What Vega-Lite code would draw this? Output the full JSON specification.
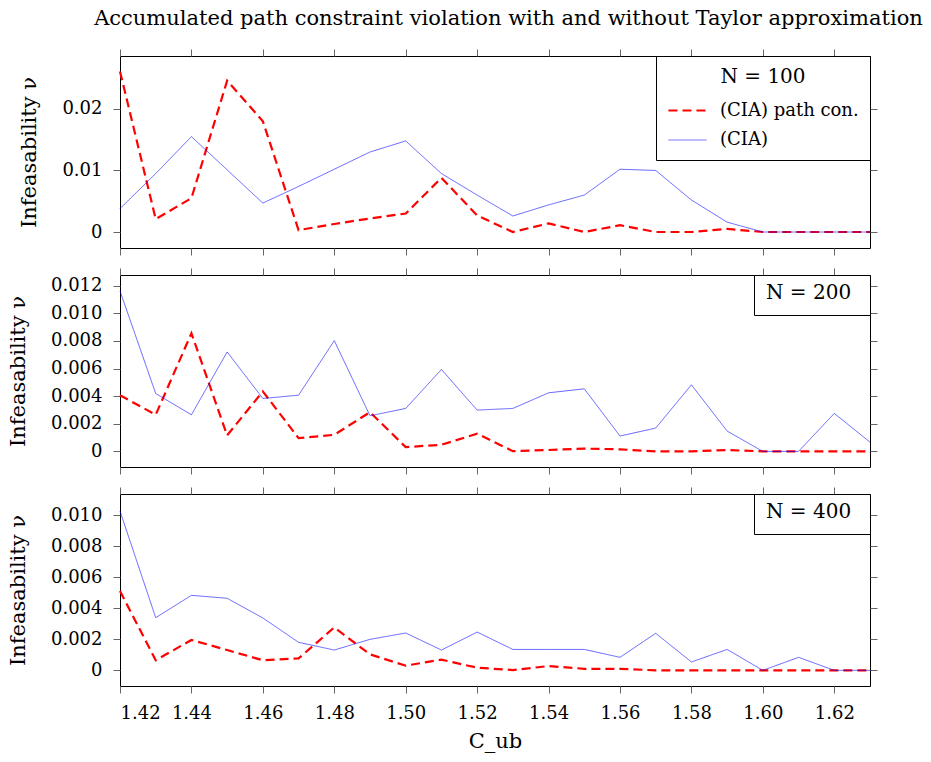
{
  "$schema": "https://vega.github.io/schema/vega-lite/v6.json",
  "padding": {"left": 6, "top": 8, "right": 5, "bottom": 2},
  "title": {"text": "Accumulated path constraint violation with and without Taylor approximation", "font": "DejaVu Serif", "fontSize": 21, "fontWeight": "normal", "color": "#000", "anchor": "middle", "offset": 19, "dx": 66},
  "config": {
    "font": "DejaVu Serif",
    "view": {"stroke": "#000", "strokeWidth": 1},
    "axis": {"labelFont": "DejaVu Serif", "labelFontSize": 18, "labelColor": "#000", "titleFont": "DejaVu Serif", "titleFontSize": 21, "titleFontWeight": "normal", "titleColor": "#000", "grid": false, "domain": false, "tickColor": "#666", "tickSize": 7, "labelPadding": 11, "titlePadding": 22},
    "legend": {"labelFont": "DejaVu Serif", "labelFontSize": 18, "labelColor": "#000", "titleFont": "DejaVu Serif", "titleFontSize": 20, "titleFontWeight": "normal", "titleColor": "#000"},
    "line": {"strokeCap": "butt"}
  },
  "spacing": 11,
  "resolve": {"scale": {"color": "independent", "strokeDash": "independent", "strokeWidth": "independent", "opacity": "independent"}, "legend": {"color": "independent", "strokeDash": "independent", "strokeWidth": "independent", "opacity": "independent"}},
  "datasets": {
    "n100": [
      {"x":1.42,"s":"(CIA) path con.","v":0.0261},{"x":1.43,"s":"(CIA) path con.","v":0.0021},{"x":1.44,"s":"(CIA) path con.","v":0.0055},{"x":1.45,"s":"(CIA) path con.","v":0.0246},{"x":1.46,"s":"(CIA) path con.","v":0.0180},{"x":1.47,"s":"(CIA) path con.","v":0.0003},{"x":1.48,"s":"(CIA) path con.","v":0.0013},{"x":1.49,"s":"(CIA) path con.","v":0.0022},{"x":1.50,"s":"(CIA) path con.","v":0.0030},{"x":1.51,"s":"(CIA) path con.","v":0.0088},{"x":1.52,"s":"(CIA) path con.","v":0.0027},{"x":1.53,"s":"(CIA) path con.","v":0.0},{"x":1.54,"s":"(CIA) path con.","v":0.0014},{"x":1.55,"s":"(CIA) path con.","v":0.0},{"x":1.56,"s":"(CIA) path con.","v":0.0011},{"x":1.57,"s":"(CIA) path con.","v":0.0},{"x":1.58,"s":"(CIA) path con.","v":0.0},{"x":1.59,"s":"(CIA) path con.","v":0.0005},{"x":1.60,"s":"(CIA) path con.","v":0.0},{"x":1.61,"s":"(CIA) path con.","v":0.0},{"x":1.62,"s":"(CIA) path con.","v":0.0},{"x":1.63,"s":"(CIA) path con.","v":0.0},
      {"x":1.42,"s":"(CIA)","v":0.0038},{"x":1.43,"s":"(CIA)","v":0.0095},{"x":1.44,"s":"(CIA)","v":0.0155},{"x":1.45,"s":"(CIA)","v":0.0101},{"x":1.46,"s":"(CIA)","v":0.0047},{"x":1.47,"s":"(CIA)","v":0.0074},{"x":1.48,"s":"(CIA)","v":0.0102},{"x":1.49,"s":"(CIA)","v":0.0130},{"x":1.50,"s":"(CIA)","v":0.0148},{"x":1.51,"s":"(CIA)","v":0.0095},{"x":1.52,"s":"(CIA)","v":0.0060},{"x":1.53,"s":"(CIA)","v":0.0026},{"x":1.54,"s":"(CIA)","v":0.0044},{"x":1.55,"s":"(CIA)","v":0.0060},{"x":1.56,"s":"(CIA)","v":0.0102},{"x":1.57,"s":"(CIA)","v":0.0100},{"x":1.58,"s":"(CIA)","v":0.0052},{"x":1.59,"s":"(CIA)","v":0.0016},{"x":1.60,"s":"(CIA)","v":0.0},{"x":1.61,"s":"(CIA)","v":0.0},{"x":1.62,"s":"(CIA)","v":0.0},{"x":1.63,"s":"(CIA)","v":0.0}
    ],
    "n200": [
      {"x":1.42,"s":"(CIA) path con.","v":0.00407},{"x":1.43,"s":"(CIA) path con.","v":0.00265},{"x":1.44,"s":"(CIA) path con.","v":0.00855},{"x":1.45,"s":"(CIA) path con.","v":0.00116},{"x":1.46,"s":"(CIA) path con.","v":0.00434},{"x":1.47,"s":"(CIA) path con.","v":0.00096},{"x":1.48,"s":"(CIA) path con.","v":0.0012},{"x":1.49,"s":"(CIA) path con.","v":0.00284},{"x":1.50,"s":"(CIA) path con.","v":0.00031},{"x":1.51,"s":"(CIA) path con.","v":0.00048},{"x":1.52,"s":"(CIA) path con.","v":0.00128},{"x":1.53,"s":"(CIA) path con.","v":0.00002},{"x":1.54,"s":"(CIA) path con.","v":0.0001},{"x":1.55,"s":"(CIA) path con.","v":0.0002},{"x":1.56,"s":"(CIA) path con.","v":0.00015},{"x":1.57,"s":"(CIA) path con.","v":0.0},{"x":1.58,"s":"(CIA) path con.","v":0.0},{"x":1.59,"s":"(CIA) path con.","v":0.0001},{"x":1.60,"s":"(CIA) path con.","v":0.0},{"x":1.61,"s":"(CIA) path con.","v":0.0},{"x":1.62,"s":"(CIA) path con.","v":0.0},{"x":1.63,"s":"(CIA) path con.","v":0.0},
      {"x":1.42,"s":"(CIA)","v":0.01161},{"x":1.43,"s":"(CIA)","v":0.00419},{"x":1.44,"s":"(CIA)","v":0.00265},{"x":1.45,"s":"(CIA)","v":0.0072},{"x":1.46,"s":"(CIA)","v":0.00383},{"x":1.47,"s":"(CIA)","v":0.00407},{"x":1.48,"s":"(CIA)","v":0.00802},{"x":1.49,"s":"(CIA)","v":0.00258},{"x":1.50,"s":"(CIA)","v":0.00311},{"x":1.51,"s":"(CIA)","v":0.00593},{"x":1.52,"s":"(CIA)","v":0.00299},{"x":1.53,"s":"(CIA)","v":0.00311},{"x":1.54,"s":"(CIA)","v":0.00424},{"x":1.55,"s":"(CIA)","v":0.00453},{"x":1.56,"s":"(CIA)","v":0.00111},{"x":1.57,"s":"(CIA)","v":0.00169},{"x":1.58,"s":"(CIA)","v":0.00482},{"x":1.59,"s":"(CIA)","v":0.00147},{"x":1.60,"s":"(CIA)","v":0.0},{"x":1.61,"s":"(CIA)","v":0.0},{"x":1.62,"s":"(CIA)","v":0.00275},{"x":1.63,"s":"(CIA)","v":0.00067}
    ],
    "n400": [
      {"x":1.42,"s":"(CIA) path con.","v":0.00512},{"x":1.43,"s":"(CIA) path con.","v":0.00065},{"x":1.44,"s":"(CIA) path con.","v":0.00196},{"x":1.45,"s":"(CIA) path con.","v":0.00131},{"x":1.46,"s":"(CIA) path con.","v":0.00065},{"x":1.47,"s":"(CIA) path con.","v":0.00077},{"x":1.48,"s":"(CIA) path con.","v":0.00277},{"x":1.49,"s":"(CIA) path con.","v":0.00103},{"x":1.50,"s":"(CIA) path con.","v":0.0003},{"x":1.51,"s":"(CIA) path con.","v":0.00069},{"x":1.52,"s":"(CIA) path con.","v":0.00017},{"x":1.53,"s":"(CIA) path con.","v":0.00002},{"x":1.54,"s":"(CIA) path con.","v":0.00028},{"x":1.55,"s":"(CIA) path con.","v":0.0001},{"x":1.56,"s":"(CIA) path con.","v":0.0001},{"x":1.57,"s":"(CIA) path con.","v":0.0},{"x":1.58,"s":"(CIA) path con.","v":0.0},{"x":1.59,"s":"(CIA) path con.","v":0.0},{"x":1.60,"s":"(CIA) path con.","v":0.0},{"x":1.61,"s":"(CIA) path con.","v":0.0},{"x":1.62,"s":"(CIA) path con.","v":0.0},{"x":1.63,"s":"(CIA) path con.","v":0.0},
      {"x":1.42,"s":"(CIA)","v":0.01028},{"x":1.43,"s":"(CIA)","v":0.0034},{"x":1.44,"s":"(CIA)","v":0.00484},{"x":1.45,"s":"(CIA)","v":0.00465},{"x":1.46,"s":"(CIA)","v":0.00338},{"x":1.47,"s":"(CIA)","v":0.00181},{"x":1.48,"s":"(CIA)","v":0.00131},{"x":1.49,"s":"(CIA)","v":0.002},{"x":1.50,"s":"(CIA)","v":0.00241},{"x":1.51,"s":"(CIA)","v":0.00131},{"x":1.52,"s":"(CIA)","v":0.00247},{"x":1.53,"s":"(CIA)","v":0.00135},{"x":1.54,"s":"(CIA)","v":0.00135},{"x":1.55,"s":"(CIA)","v":0.00135},{"x":1.56,"s":"(CIA)","v":0.00084},{"x":1.57,"s":"(CIA)","v":0.00239},{"x":1.58,"s":"(CIA)","v":0.00054},{"x":1.59,"s":"(CIA)","v":0.00135},{"x":1.60,"s":"(CIA)","v":0.0},{"x":1.61,"s":"(CIA)","v":0.00084},{"x":1.62,"s":"(CIA)","v":0.0},{"x":1.63,"s":"(CIA)","v":0.0}
    ]
  },
  "vconcat": [
    {
      "width": 750, "height": 192,
      "data": {"name": "n100"},
      "resolve": {"axis": {"x": "independent", "y": "independent"}},
      "layer": [
        {
          "mark": {"type": "line"},
          "encoding": {
            "x": {"field": "x", "type": "quantitative", "scale": {"domain": [1.42, 1.63], "nice": false, "zero": false}, "axis": {"values": [1.42,1.44,1.46,1.48,1.50,1.52,1.54,1.56,1.58,1.60,1.62], "labels": false, "title": null}},
            "y": {"field": "v", "type": "quantitative", "scale": {"domain": [-0.0026, 0.0286], "nice": false, "zero": false}, "axis": {"values": [0, 0.01, 0.02], "labelExpr": "datum.value == 0 ? '0' : format(datum.value, '.2f')", "title": "Infeasability ν"}},
            "color": {"field": "s", "type": "nominal", "scale": {"domain": ["(CIA) path con.", "(CIA)"], "range": ["#ff0000", "#0000ff"]}, "legend": {"title": "N = 100", "orient": "top-right", "offset": 0, "strokeColor": "#000", "fillColor": "#fff", "padding": 11, "symbolType": "stroke", "symbolSize": 1450, "rowPadding": 0, "labelOffset": 12, "titlePadding": 3, "titleAnchor": "middle"}},
            "strokeDash": {"field": "s", "type": "nominal", "scale": {"domain": ["(CIA) path con.", "(CIA)"], "range": [[9, 5], [1, 0]]}, "legend": {"title": "N = 100", "orient": "top-right", "offset": 0, "strokeColor": "#000", "fillColor": "#fff", "padding": 11, "symbolType": "stroke", "symbolSize": 1450, "rowPadding": 0, "labelOffset": 12, "titlePadding": 3, "titleAnchor": "middle"}},
            "strokeWidth": {"field": "s", "type": "nominal", "scale": {"domain": ["(CIA) path con.", "(CIA)"], "range": [2.2, 1]}, "legend": {"title": "N = 100", "orient": "top-right", "offset": 0, "strokeColor": "#000", "fillColor": "#fff", "padding": 11, "symbolType": "stroke", "symbolSize": 1450, "rowPadding": 0, "labelOffset": 12, "titlePadding": 3, "titleAnchor": "middle"}},
            "opacity": {"field": "s", "type": "nominal", "scale": {"domain": ["(CIA) path con.", "(CIA)"], "range": [1, 0.6]}, "legend": {"title": "N = 100", "orient": "top-right", "offset": 0, "strokeColor": "#000", "fillColor": "#fff", "padding": 11, "symbolType": "stroke", "symbolSize": 1450, "rowPadding": 0, "labelOffset": 12, "titlePadding": 3, "titleAnchor": "middle"}}
          }
        },
        {
          "mark": {"type": "point", "opacity": 0},
          "encoding": {
            "x": {"field": "x", "type": "quantitative", "axis": {"orient": "top", "values": [1.42,1.44,1.46,1.48,1.50,1.52,1.54,1.56,1.58,1.60,1.62], "labels": false, "title": null}},
            "y": {"field": "v", "type": "quantitative", "axis": {"orient": "right", "values": [0, 0.01, 0.02], "labels": false, "title": null}}
          }
        }
      ]
    },
    {
      "width": 750, "height": 192,
      "data": {"name": "n200"},
      "resolve": {"axis": {"x": "independent", "y": "independent"}},
      "layer": [
        {
          "mark": {"type": "line"},
          "encoding": {
            "x": {"field": "x", "type": "quantitative", "scale": {"domain": [1.42, 1.63], "nice": false, "zero": false}, "axis": {"values": [1.42,1.44,1.46,1.48,1.50,1.52,1.54,1.56,1.58,1.60,1.62], "labels": false, "title": null}},
            "y": {"field": "v", "type": "quantitative", "scale": {"domain": [-0.00113, 0.01277], "nice": false, "zero": false}, "axis": {"values": [0, 0.002, 0.004, 0.006, 0.008, 0.01, 0.012], "labelExpr": "datum.value == 0 ? '0' : format(datum.value, '.3f')", "title": "Infeasability ν"}},
            "color": {"field": "s", "type": "nominal", "scale": {"domain": ["(CIA) path con.", "(CIA)"], "range": ["#ff0000", "#0000ff"]}, "legend": {"title": "N = 200", "orient": "top-right", "offset": 0, "strokeColor": "#000", "fillColor": "#fff", "padding": 12, "direction": "horizontal", "titleOrient": "left", "titlePadding": 0, "columnPadding": 0, "symbolSize": 0, "symbolOpacity": 0, "symbolStrokeWidth": 0, "labelExpr": "''", "labelFontSize": 1, "labelOffset": 0, "columns": 1}},
            "strokeDash": {"field": "s", "type": "nominal", "scale": {"domain": ["(CIA) path con.", "(CIA)"], "range": [[9, 5], [1, 0]]}, "legend": {"title": "N = 200", "orient": "top-right", "offset": 0, "strokeColor": "#000", "fillColor": "#fff", "padding": 12, "direction": "horizontal", "titleOrient": "left", "titlePadding": 0, "columnPadding": 0, "symbolSize": 0, "symbolOpacity": 0, "symbolStrokeWidth": 0, "labelExpr": "''", "labelFontSize": 1, "labelOffset": 0, "columns": 1}},
            "strokeWidth": {"field": "s", "type": "nominal", "scale": {"domain": ["(CIA) path con.", "(CIA)"], "range": [2.2, 1]}, "legend": {"title": "N = 200", "orient": "top-right", "offset": 0, "strokeColor": "#000", "fillColor": "#fff", "padding": 12, "direction": "horizontal", "titleOrient": "left", "titlePadding": 0, "columnPadding": 0, "symbolSize": 0, "symbolOpacity": 0, "symbolStrokeWidth": 0, "labelExpr": "''", "labelFontSize": 1, "labelOffset": 0, "columns": 1}},
            "opacity": {"field": "s", "type": "nominal", "scale": {"domain": ["(CIA) path con.", "(CIA)"], "range": [1, 0.6]}, "legend": {"title": "N = 200", "orient": "top-right", "offset": 0, "strokeColor": "#000", "fillColor": "#fff", "padding": 12, "direction": "horizontal", "titleOrient": "left", "titlePadding": 0, "columnPadding": 0, "symbolSize": 0, "symbolOpacity": 0, "symbolStrokeWidth": 0, "labelExpr": "''", "labelFontSize": 1, "labelOffset": 0, "columns": 1}}
          }
        },
        {
          "mark": {"type": "point", "opacity": 0},
          "encoding": {
            "x": {"field": "x", "type": "quantitative", "axis": {"orient": "top", "values": [1.42,1.44,1.46,1.48,1.50,1.52,1.54,1.56,1.58,1.60,1.62], "labels": false, "title": null}},
            "y": {"field": "v", "type": "quantitative", "axis": {"orient": "right", "values": [0, 0.002, 0.004, 0.006, 0.008, 0.01, 0.012], "labels": false, "title": null}}
          }
        }
      ]
    },
    {
      "width": 750, "height": 192,
      "data": {"name": "n400"},
      "resolve": {"axis": {"x": "independent", "y": "independent"}},
      "layer": [
        {
          "mark": {"type": "line"},
          "encoding": {
            "x": {"field": "x", "type": "quantitative", "scale": {"domain": [1.42, 1.63], "nice": false, "zero": false}, "axis": {"values": [1.42,1.44,1.46,1.48,1.50,1.52,1.54,1.56,1.58,1.60,1.62], "format": ".2f", "title": "C_ub", "titlePadding": 8}},
            "y": {"field": "v", "type": "quantitative", "scale": {"domain": [-0.00101, 0.01138], "nice": false, "zero": false}, "axis": {"values": [0, 0.002, 0.004, 0.006, 0.008, 0.01], "labelExpr": "datum.value == 0 ? '0' : format(datum.value, '.3f')", "title": "Infeasability ν"}},
            "color": {"field": "s", "type": "nominal", "scale": {"domain": ["(CIA) path con.", "(CIA)"], "range": ["#ff0000", "#0000ff"]}, "legend": {"title": "N = 400", "orient": "top-right", "offset": 0, "strokeColor": "#000", "fillColor": "#fff", "padding": 12, "direction": "horizontal", "titleOrient": "left", "titlePadding": 0, "columnPadding": 0, "symbolSize": 0, "symbolOpacity": 0, "symbolStrokeWidth": 0, "labelExpr": "''", "labelFontSize": 1, "labelOffset": 0, "columns": 1}},
            "strokeDash": {"field": "s", "type": "nominal", "scale": {"domain": ["(CIA) path con.", "(CIA)"], "range": [[9, 5], [1, 0]]}, "legend": {"title": "N = 400", "orient": "top-right", "offset": 0, "strokeColor": "#000", "fillColor": "#fff", "padding": 12, "direction": "horizontal", "titleOrient": "left", "titlePadding": 0, "columnPadding": 0, "symbolSize": 0, "symbolOpacity": 0, "symbolStrokeWidth": 0, "labelExpr": "''", "labelFontSize": 1, "labelOffset": 0, "columns": 1}},
            "strokeWidth": {"field": "s", "type": "nominal", "scale": {"domain": ["(CIA) path con.", "(CIA)"], "range": [2.2, 1]}, "legend": {"title": "N = 400", "orient": "top-right", "offset": 0, "strokeColor": "#000", "fillColor": "#fff", "padding": 12, "direction": "horizontal", "titleOrient": "left", "titlePadding": 0, "columnPadding": 0, "symbolSize": 0, "symbolOpacity": 0, "symbolStrokeWidth": 0, "labelExpr": "''", "labelFontSize": 1, "labelOffset": 0, "columns": 1}},
            "opacity": {"field": "s", "type": "nominal", "scale": {"domain": ["(CIA) path con.", "(CIA)"], "range": [1, 0.6]}, "legend": {"title": "N = 400", "orient": "top-right", "offset": 0, "strokeColor": "#000", "fillColor": "#fff", "padding": 12, "direction": "horizontal", "titleOrient": "left", "titlePadding": 0, "columnPadding": 0, "symbolSize": 0, "symbolOpacity": 0, "symbolStrokeWidth": 0, "labelExpr": "''", "labelFontSize": 1, "labelOffset": 0, "columns": 1}}
          }
        },
        {
          "mark": {"type": "point", "opacity": 0},
          "encoding": {
            "x": {"field": "x", "type": "quantitative", "axis": {"orient": "top", "values": [1.42,1.44,1.46,1.48,1.50,1.52,1.54,1.56,1.58,1.60,1.62], "labels": false, "title": null}},
            "y": {"field": "v", "type": "quantitative", "axis": {"orient": "right", "values": [0, 0.002, 0.004, 0.006, 0.008, 0.01], "labels": false, "title": null}}
          }
        }
      ]
    }
  ]
}
